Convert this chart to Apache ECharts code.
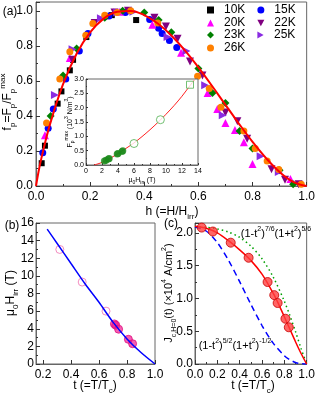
<!DOCTYPE html>
<html><head><meta charset="utf-8">
<script src="https://cdn.jsdelivr.net/npm/echarts@6/dist/echarts.min.js"></script>
<style>html,body{margin:0;padding:0;background:#fff}#c{width:318px;height:396px}</style>
</head><body><div id="c"></div>
<script>
// ---------- Panel (a): normalized pinning force ----------
const seriesNames = ['10K','15K','20K','22K','23K','25K','26K'];
const s10K = [[0.021,0.13],[0.033,0.23],[0.08,0.47],[0.094,0.54],[0.125,0.66],[0.137,0.72],[0.186,0.85],[0.28,0.975],[0.37,0.947]];
const s15K = [[0.025,0.19],[0.045,0.33],[0.064,0.44],[0.11,0.61],[0.16,0.77],[0.192,0.87],[0.27,0.97],[0.33,0.99],[0.42,0.95],[0.453,0.9],[0.466,0.87],[0.493,0.83],[0.52,0.79]];
const s20K = [[0.033,0.29],[0.125,0.73],[0.25,0.97],[0.31,0.995],[0.43,0.92],[0.536,0.76],[0.634,0.53],[0.67,0.44],[0.70,0.36],[0.735,0.32],[0.768,0.25],[0.80,0.125],[0.94,0.04]];
const s22K = [[0.134,0.72],[0.217,0.93],[0.29,0.99],[0.34,1.0],[0.4375,0.96],[0.48,0.91],[0.523,0.84],[0.569,0.71],[0.615,0.63],[0.70,0.42],[0.744,0.37],[0.78,0.27],[0.87,0.095],[0.92,0.036],[0.97,0.01]];
const s23K = [[0.054,0.40],[0.10,0.63],[0.15,0.785],[0.254,0.96],[0.32,1.0],[0.40,0.99],[0.453,0.947],[0.50,0.877],[0.60,0.67],[0.652,0.53],[0.70,0.474],[0.752,0.314],[0.80,0.214],[0.90,0.09],[0.95,0.01]];
const s25K = [[0.07,0.52],[0.135,0.78],[0.24,0.957],[0.30,0.99],[0.36,0.995],[0.486,0.85],[0.556,0.77],[0.625,0.575],[0.69,0.404],[0.83,0.17],[0.897,0.08]];
const s26K = [[0.039,0.36],[0.088,0.61],[0.125,0.766],[0.184,0.86],[0.21,0.928],[0.254,0.975],[0.30,0.99],[0.35,1.0],[0.45,0.93],[0.597,0.627],[0.64,0.556],[0.683,0.45],[0.768,0.314],[0.81,0.214],[0.854,0.143],[0.897,0.094],[0.98,0.01]];
const fitH = [0,0.01,0.02,0.05,0.1,0.15,0.2,0.25,0.3,0.35,0.4,0.45,0.5,0.55,0.6,0.65,0.7,0.75,0.8,0.85,0.9,0.95,1.0];
const fitF = [0,0.087,0.159,0.343,0.581,0.755,0.877,0.955,0.994,0.999,0.975,0.927,0.859,0.774,0.677,0.572,0.463,0.355,0.252,0.159,0.080,0.024,0];

// ---------- Inset: Fp max vs mu0 Hirr ----------
const insetSolid = [[2.3,0.14],[2.5,0.17],[2.8,0.21],[2.9,0.23],[3.9,0.38],[4.0,0.40],[4.5,0.47],[4.6,0.50]];
const insetOpenCircle = [[6.0,0.75],[9.3,1.58]];
const insetOpenSquare = [[13.0,2.8]];
const insetFitX = [1.0,1.5,2,3,4,5,6,7,8,9,10,11,12,13,13.5];
const insetFitY = [0,0.04,0.09,0.23,0.40,0.58,0.77,0.99,1.23,1.49,1.77,2.07,2.40,2.77,2.95];

// ---------- Panel (b): mu0 Hirr vs t ----------
const bOpen = [[0.32,13.0],[0.48,9.3],[0.65,6.0]];
const bFilled = [[0.71,4.55],[0.72,4.4],[0.74,3.95],[0.81,2.8],[0.84,2.3]];
const bFitT = [0.23,0.3,0.4,0.5,0.6,0.7,0.8,0.9,1.0];
const bFitH = [15.3,13.7,11.4,9.1,7.0,4.75,2.85,1.3,0];
const bXTicks = [0.2,0.4,0.6,0.8,1.0];

// ---------- Panel (c): Jc(H=0) vs t ----------
const cPoints = [[0.06,2.08],[0.16,2.02],[0.32,1.85],[0.48,1.62],[0.65,1.25],[0.71,1.05],[0.74,0.93],[0.81,0.69],[0.84,0.56]];
const cFitT = [0,0.1,0.2,0.3,0.4,0.5,0.6,0.7,0.75,0.8,0.85,0.9,0.95,1.0];
const cFitJ = [2.1,2.07,2.0,1.88,1.74,1.58,1.37,1.08,0.91,0.72,0.53,0.34,0.16,0];
const tModel = [0,0.1,0.2,0.3,0.4,0.5,0.6,0.7,0.8,0.85,0.9,0.95,1.0];
const greenModel = [2.09,2.083,2.059,2.012,1.930,1.799,1.604,1.328,0.958,0.737,0.494,0.236,0];
const blueModel = [2.09,2.028,1.851,1.581,1.255,0.911,0.587,0.318,0.127,0.065,0.024,0.005,0];

const zip = (a,b) => a.map((v,i)=>[v,b[i]]);
const FONT = 'Liberation Sans';
const frameColor = '#666';

function axis(gridIndex, pos, min, max, opt) {
  opt = opt || {};
  const a = {
    type:'value', gridIndex, position:pos, min, max,
    axisLine:{show:true, onZero:false, lineStyle:{color:frameColor, width:1}},
    axisTick:{show:true, inside:true, length:opt.tickLen||4, lineStyle:{color:'#333'}},
    minorTick:{show: opt.minor!==false, splitNumber:2, length:(opt.tickLen||4)/2, lineStyle:{color:'#333'}},
    splitLine:{show:false},
    axisLabel:{color:'#000', fontFamily:FONT, fontSize:opt.fs||12, margin:opt.margin||5,
      formatter: opt.fmt || (v=>v)}
  };
  if (opt.interval!=null) a.interval = opt.interval;
  if (opt.ticks) { a.axisLabel.customValues = opt.ticks; a.axisTick.customValues = opt.ticks; }
  if (opt.hideMax) a.axisLabel.showMaxLabel = false;
  return a;
}
const f1 = v => v.toFixed(1);

const grids = [
  {left:36, top:2, width:272, height:184},       // (a)
  {left:86, top:79, width:112, height:86},       // inset
  {left:36, top:223, width:119, height:141},     // (b)
  {left:195, top:223, width:116, height:141}     // (c)
].map(g=>Object.assign(g,{show:true, borderColor:frameColor, borderWidth:1, backgroundColor:'transparent', containLabel:false}));
grids[1].backgroundColor = '#fff';
grids[1].z = 3;

const xAxes = [
  axis(0,'bottom',0,1,{interval:0.2, fmt:f1}),
  axis(1,'bottom',0,14,{interval:2, fs:7, tickLen:2, margin:3}),
  axis(2,'bottom',0.15,1,{ticks:bXTicks, fmt:f1, minor:false}),
  axis(3,'bottom',0,1,{interval:0.2, fmt:f1})
];
const yAxes = [
  axis(0,'left',0,1.05,{interval:0.2, fmt:f1, hideMax:true, margin:3}),
  axis(1,'left',0,3,{interval:0.5, fs:7, tickLen:2, margin:2, fmt:f1}),
  axis(2,'left',0,16,{interval:2, margin:2}),
  axis(3,'left',0,2.15,{interval:0.5, fmt:f1, hideMax:true, margin:2})
];
xAxes[1].z = 4; yAxes[1].z = 4;

const symDown = 'path://M0,0L10,0L5,9Z';
const symRight = 'path://M0,0L9,5L0,10Z';
const symDiamond = 'path://M5,0L10,5L5,10L0,5Z';
const styles = {
  '10K':{symbol:'rect', size:6, color:'#000000'},
  '15K':{symbol:'circle', size:7, color:'#0000FF'},
  '20K':{symbol:'triangle', size:8, color:'#FF00FF'},
  '22K':{symbol:symDown, size:8, color:'#800080'},
  '23K':{symbol:symDiamond, size:8, color:'#008000'},
  '25K':{symbol:symRight, size:8, color:'#8A2BE2'},
  '26K':{symbol:'circle', size:7, color:'#FF8000'}
};
const aData = {'10K':s10K,'15K':s15K,'20K':s20K,'22K':s22K,'23K':s23K,'25K':s25K,'26K':s26K};

const series = [];
seriesNames.forEach(n=>{
  const st = styles[n];
  series.push({name:n, type:'scatter', xAxisIndex:0, yAxisIndex:0, data:aData[n],
    symbol:st.symbol, symbolSize:st.size, itemStyle:{color:st.color, opacity:1}, z:2});
});
series.push({type:'line', xAxisIndex:0, yAxisIndex:0, data:zip(fitH,fitF), smooth:0.4, showSymbol:false,
  lineStyle:{color:'#FF0000', width:2}, z:3});
// inset
series.push({type:'line', xAxisIndex:1, yAxisIndex:1, data:zip(insetFitX,insetFitY), smooth:0.3, showSymbol:false,
  lineStyle:{color:'#FF2020', width:1}, z:5});
series.push({type:'scatter', xAxisIndex:1, yAxisIndex:1, data:insetSolid, symbol:'circle', symbolSize:7,
  itemStyle:{color:'#1A8A1A'}, z:6});
series.push({type:'scatter', xAxisIndex:1, yAxisIndex:1, data:insetOpenCircle, symbol:'circle', symbolSize:8,
  itemStyle:{color:'#fff', borderColor:'#50B050', borderWidth:1}, z:6});
series.push({type:'scatter', xAxisIndex:1, yAxisIndex:1, data:insetOpenSquare, symbol:'rect', symbolSize:7,
  itemStyle:{color:'#fff', borderColor:'#50B050', borderWidth:1}, z:6});
// (b)
series.push({type:'line', xAxisIndex:2, yAxisIndex:2, data:zip(bFitT,bFitH), smooth:0.3, showSymbol:false,
  lineStyle:{color:'#0000FF', width:1.5}});
series.push({type:'scatter', xAxisIndex:2, yAxisIndex:2, data:bOpen, symbol:'circle', symbolSize:8,
  itemStyle:{color:'rgba(255,255,255,0)', borderColor:'#F070B0', borderWidth:1}});
series.push({type:'scatter', xAxisIndex:2, yAxisIndex:2, data:bFilled, symbol:'circle', symbolSize:8,
  itemStyle:{color:'rgba(240,20,140,0.85)', borderColor:'#E0107F', borderWidth:1}});
// (c)
series.push({type:'line', xAxisIndex:3, yAxisIndex:3, data:zip(tModel,greenModel), smooth:0.3, showSymbol:false,
  lineStyle:{color:'#00A000', width:1.5, type:[1.5,3]}});
series.push({type:'line', xAxisIndex:3, yAxisIndex:3, data:zip(tModel,blueModel), smooth:0.3, showSymbol:false,
  lineStyle:{color:'#0000FF', width:1.5, type:[6,4]}});
series.push({type:'line', xAxisIndex:3, yAxisIndex:3, data:zip(cFitT,cFitJ), smooth:0.3, showSymbol:false,
  lineStyle:{color:'#FF0000', width:1.5}});
series.push({type:'scatter', xAxisIndex:3, yAxisIndex:3, data:cPoints, symbol:'circle', symbolSize:9,
  itemStyle:{color:'#FF4040', borderColor:'#C80000', borderWidth:1}, z:4});

function mkRich(fs, sfs){
  return {
    n:{fontFamily:FONT, fontSize:fs, lineHeight:Math.round(fs*1.5), color:'#000'},
    sb:{fontFamily:FONT, fontSize:sfs, lineHeight:sfs+1, verticalAlign:'bottom', color:'#000'},
    sp:{fontFamily:FONT, fontSize:sfs, lineHeight:sfs+1, verticalAlign:'top', color:'#000'}
  };
}
const richBase = mkRich(12,8);
const richMid = mkRich(11,7);
const richSmall = mkRich(7,5);
function txt(x,y,text,rot,rich){
  return {type:'text', x, y, rotation:rot||0, z:100,
    style:{text, rich:rich||richBase, fill:'#000', font:'12px '+FONT, align:'center', verticalAlign:'middle',
      textAlign:'center', textVerticalAlign:'middle'}};
}
const graphics = [
  txt(10,12,'{n|(a)}'),
  txt(12,226,'{n|(b)}'),
  txt(171,224,'{n|(c)}'),
  txt(172,212,'{n|h (=H/H}{sb|irr}{n|)}'),
  txt(8,102,'{n|f}{sb|p}{n|=F}{sb|p}{n|/F}{sb|p}{sp|max}',Math.PI/2),
  txt(95,386,'{n|t (=T/T}{sb|c}{n|)}'),
  txt(253,386,'{n|t (=T/T}{sb|c}{n|)}'),
  txt(11,293,'{n|μ}{sb|0}{n|H}{sb|irr}{n| (T)}',Math.PI/2),
  txt(169,293,'{n|J}{sb|c,H=0}{n|(t) (×10}{sp|4}{n| A/cm}{sp|2}{n|)}',Math.PI/2,richMid),
  txt(276,234,'{n|(1-t}{sp|2}{n|)}{sp|7/6}{n|(1+t}{sp|2}{n|)}{sp|5/6}',0,richMid),
  txt(235,346,'{n|(1-t}{sp|2}{n|)}{sp|5/2}{n|(1+t}{sp|2}{n|)}{sp|-1/2}',0,richMid),
  txt(142,180,'{n|μ}{sb|0}{n|H}{sb|irr}{n| (T)}',0,richSmall),
  txt(70,122,'{n|F}{sb|p}{sp|max}{n| (10}{sp|3}{n| N/m}{sp|3}{n|)}',Math.PI/2,richSmall)
];

function legend(data, top){
  return {data, left:207, top, orient:'horizontal', itemWidth:7, itemHeight:7, itemGap:12, padding:0,
    textStyle:{fontFamily:FONT, fontSize:12, color:'#000', padding:[0,0,0,5]}, selectedMode:false};
}

const chart = echarts.init(document.getElementById('c'), null, {renderer:'canvas'});
chart.setOption({
  animation:false,
  backgroundColor:'#fff',
  grid:grids, xAxis:xAxes, yAxis:yAxes, series,
  legend:[legend(['10K','15K'],4), legend(['20K','22K'],17), legend(['23K','25K'],29), legend(['26K'],42)],
  graphic:graphics
});
</script></body></html>
